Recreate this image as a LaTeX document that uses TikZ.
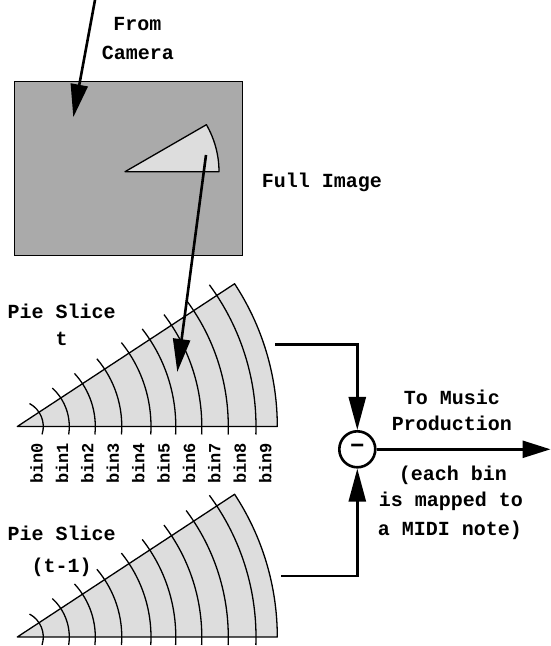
\documentclass[tikz,border=0pt]{standalone}
\usepackage{fontspec}
\newfontfamily\cour{Liberation Mono}
\usetikzlibrary{arrows.meta}
\definecolor{imggray}{RGB}{170,170,170}
\definecolor{piegray}{RGB}{221,221,221}
\begin{document}
\begin{tikzpicture}[x=1pt,y=1pt,
  lbl/.style={inner sep=0pt,font=\cour\bfseries\fontsize{20}{24}\selectfont,text height=11.5pt,text depth=0pt},
  binlab/.style={inner sep=0pt,rotate=90,font=\cour\bfseries\fontsize{17}{20}\selectfont,text height=10.5pt,text depth=0pt},
  pie/.style={fill=piegray,draw=black,line width=1.3pt,line join=round},
  arcline/.style={draw=black,line width=1.3pt},
  conn/.style={draw=black,line width=2.6pt},
  bigarrow/.style={conn,-{Triangle[length=33pt,width=17pt]}},
  outarrow/.style={conn,-{Triangle[length=28pt,width=17pt]}},
  sumnode/.style={circle,draw=black,line width=2.6pt,minimum size=36pt,inner sep=0pt,fill=white,font=\cour\bfseries\fontsize{24}{26}\selectfont}
]
\useasboundingbox (0,0) rectangle (551,646);

% full image
\node[draw=black,line width=1pt,fill=imggray,minimum width=228pt,minimum height=173.7pt,inner sep=0pt,anchor=south west] (img) at (14,390) {};
\coordinate (A) at (125,474.3);
\fill[pie] (A) -- ++(94,0) arc[start angle=0,end angle=30,radius=94] -- cycle;

% pie slice t
\coordinate (P1) at (17.3,219.5);
\fill[pie] (P1) -- ++(260,0) arc[start angle=0,end angle=33.3,radius=260] -- cycle;
% pie slice t-1
\coordinate (P2) at (17.3,9);
\fill[pie] (P2) -- ++(260,0) arc[start angle=0,end angle=33.3,radius=260] -- cycle;

\foreach \r in {26,52,78,104.5,133.7,158.5,184.5,211,238.7}{
  \pgfmathsetmacro\sa{-8/\r*57.3}
  \pgfmathsetmacro\ea{33.3+13/\r*57.3}
  \draw[arcline] (P1) ++(\sa:\r) arc[start angle=\sa,end angle=\ea,radius=\r];
  \draw[arcline] (P2) ++(\sa:\r) arc[start angle=\sa,end angle=\ea,radius=\r];
}

% bin labels
\foreach \i/\x in {0/37.4,1/62.8,2/88.2,3/113.6,4/139.0,5/164.4,6/189.8,7/215.2,8/240.6,9/266.0}{
  \node[binlab] (bin\i) at (\x,182.7) {bin\i};
}

% labels
\node[lbl] (from) at (137.5,621) {From};
\node[lbl] (camera) at (138,592) {Camera};
\node[lbl] (full) at (322,464) {Full Image};
\node[lbl] (ps1) at (61.7,333.3) {Pie Slice};
\node[lbl] (ps1t) at (61.7,306) {t};
\node[lbl] (ps2) at (61.7,111) {Pie Slice};
\node[lbl] (ps2t) at (61.7,79.3) {(t-1)};
\node[lbl] (tm1) at (452,247.7) {To Music};
\node[lbl] (tm2) at (452,221) {Production};
\node[lbl] (eb1) at (453,171) {(each bin};
\node[lbl] (eb2) at (451,145) {is mapped to};
\node[lbl] (eb3) at (450,116.7) {a MIDI note)};

% camera arrow
\coordinate (camsrc) at (95,646);
\coordinate (camtip) at (73.3,528.7);
\draw[bigarrow] (camsrc) -- (camtip);

% slice arrow
\coordinate (slsrc) at (206,491);
\coordinate (sltip) at (177.3,274);
\draw[bigarrow] (slsrc) -- (sltip);

% difference node
\node[sumnode] (diff) at (357.3,196.7) {−};
\coordinate (top1) at (275,301.7);
\coordinate (bot1) at (281,70);
\coordinate (outend) at (550.5,196.7);
\draw[bigarrow] (top1) -| (diff.north);
\draw[bigarrow] (bot1) -| (diff.south);
\draw[outarrow] (diff.east) -- (outend);
\end{tikzpicture}
\end{document}
